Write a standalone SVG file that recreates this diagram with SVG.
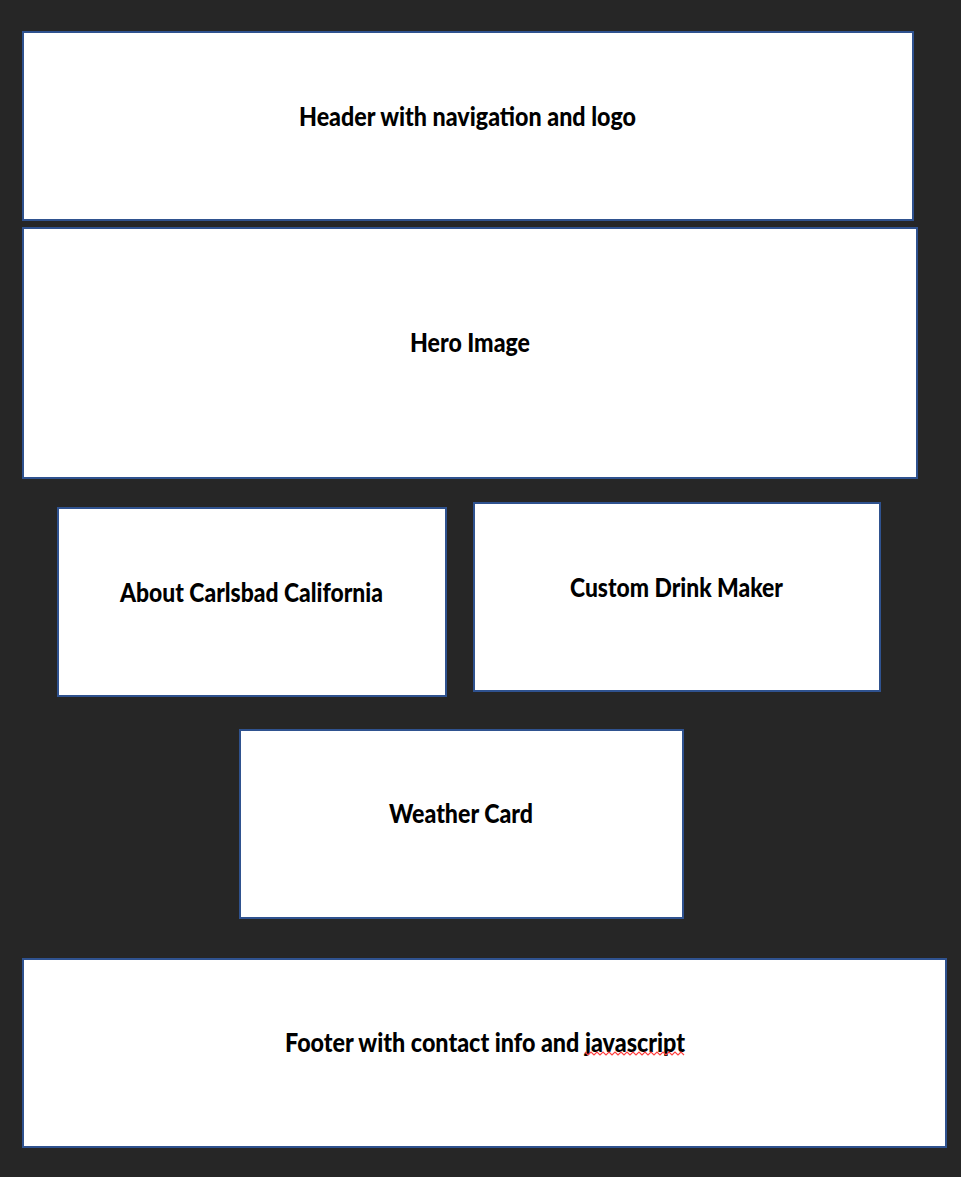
<svg xmlns="http://www.w3.org/2000/svg" width="961" height="1177" viewBox="0 0 961 1177">
<style>
.box{fill:#ffffff;stroke:#2f528f;stroke-width:2}
.lbl{font-family:Lato,"Liberation Sans",sans-serif;font-weight:900;font-size:26px;fill:#000000;text-anchor:middle}
.sq{fill:none;stroke:#ff4040;stroke-width:1.2}
</style>
<rect x="0" y="0" width="961" height="1177" fill="#262626"/>
<g id="header"><rect class="box" x="23" y="32" width="890" height="188"/><text class="lbl" x="467.5" y="126" textLength="337" lengthAdjust="spacingAndGlyphs">Header with navigation and logo</text></g>
<g id="hero"><rect class="box" x="23" y="228" width="894" height="250"/><text class="lbl" x="470" y="352" textLength="120" lengthAdjust="spacingAndGlyphs">Hero Image</text></g>
<g id="about"><rect class="box" x="58" y="508" width="388" height="188"/><text class="lbl" x="251.5" y="602" textLength="263" lengthAdjust="spacingAndGlyphs">About Carlsbad California</text></g>
<g id="drink"><rect class="box" x="474" y="503" width="406" height="188"/><text class="lbl" x="676.5" y="597" textLength="213" lengthAdjust="spacingAndGlyphs">Custom Drink Maker</text></g>
<g id="weather"><rect class="box" x="240" y="730" width="443" height="188"/><text class="lbl" x="461" y="823" textLength="144" lengthAdjust="spacingAndGlyphs">Weather Card</text></g>
<g id="footer"><rect class="box" x="23" y="959" width="923" height="188"/><text class="lbl" x="485" y="1052" textLength="400" lengthAdjust="spacingAndGlyphs">Footer with contact info and javascript</text>
<path class="sq" d="M585 1052 l3 3 l3 -3 l3 3 l3 -3 l3 3 l3 -3 l3 3 l3 -3 l3 3 l3 -3 l3 3 l3 -3 l3 3 l3 -3 l3 3 l3 -3 l3 3 l3 -3 l3 3 l3 -3 l3 3 l3 -3 l3 3 l3 -3 l3 3 l3 -3 l3 3 l3 -3 l3 3 l3 -3 l3 3 l3 -3 l3 3"/></g>
<g id="connectors"></g>
</svg>
